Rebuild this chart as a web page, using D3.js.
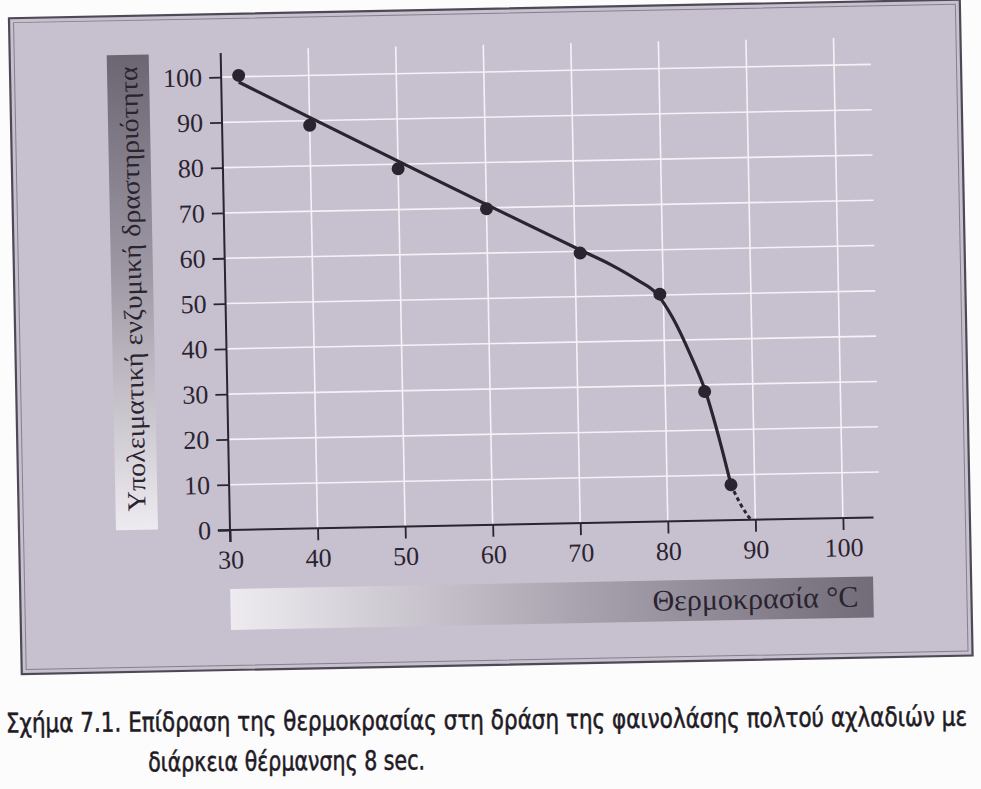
<!DOCTYPE html>
<html><head><meta charset="utf-8">
<script src="https://cdn.jsdelivr.net/npm/d3@7"></script>
<style>body{margin:0;background:#fcfcfd;} svg{display:block;}</style>
</head><body>
<svg id="chart" width="981" height="789"></svg>
<script>
// ---- data ----
const xTicks = [30, 40, 50, 60, 70, 80, 90, 100];
const yTicks = [0, 10, 20, 30, 40, 50, 60, 70, 80, 90, 100];
const tempC    = [32, 40, 50, 60, 70.6, 79.6, 84.5, 87.3];
const activity = [100.3, 89, 79, 69.8, 59.6, 50.2, 28.5, 7.8];
const curveTemp = [32, 70.6, 74, 77, 79.3, 81, 83, 84.6, 86, 87.3];
const curveAct  = [98.8, 60.3, 57, 53.5, 50.2, 45, 36.5, 28.5, 18.5, 7.8];
const dashTemp = [87.3, 88.4, 89.5];
const dashAct  = [7.8, 3, 0];
const xLabel = "Θερμοκρασία °C";
const yLabel = "Υπολειματική ενζυμική δραστηριότητα";
const caption1 = "Σχήμα 7.1. Επίδραση της θερμοκρασίας στη δράση της φαινολάσης πολτού αχλαδιών με";
const caption2 = "διάρκεια θέρμανσης 8 sec.";

const ink = "#2a2330";
const svg = d3.select("#chart");
const defs = svg.append("defs");
const gy = defs.append("linearGradient").attr("id","gy").attr("x1",0).attr("y1",0).attr("x2",0).attr("y2",1);
gy.append("stop").attr("offset","0%").attr("stop-color","#6c6672");
gy.append("stop").attr("offset","45%").attr("stop-color","#9d97a3");
gy.append("stop").attr("offset","100%").attr("stop-color","#eeebf0");
const gx = defs.append("linearGradient").attr("id","gx").attr("x1",0).attr("y1",0).attr("x2",1).attr("y2",0);
gx.append("stop").attr("offset","0%").attr("stop-color","#eeebf0");
gx.append("stop").attr("offset","55%").attr("stop-color","#a8a2ae");
gx.append("stop").attr("offset","100%").attr("stop-color","#726c78");

const x = d3.scaleLinear().domain([30, 100]).range([230, 843]);
const y = d3.scaleLinear().domain([0, 100]).range([530, 77]);

const g = svg.append("g").attr("transform", "rotate(-1.12 230 530)");

// frame
g.append("rect").attr("x",19).attr("y",14).attr("width",951).attr("height",656)
  .attr("fill","#c7c0cf").attr("stroke","#4f4955").attr("stroke-width",2.2);
g.append("rect").attr("x",23.5).attr("y",18.5).attr("width",942).attr("height",647)
  .attr("fill","none").attr("stroke","#857f8b").attr("stroke-width",1);

// grid
g.append("g").selectAll("line").data(xTicks.filter(d => d > 30)).join("line")
  .attr("x1", d => x(d)).attr("x2", d => x(d)).attr("y1", y(0)).attr("y2", y(106))
  .attr("stroke","#f4f2f6").attr("stroke-width",1.6);
g.append("g").selectAll("line").data(yTicks.filter(d => d > 0)).join("line")
  .attr("x1", x(30)).attr("x2", x(104.2)).attr("y1", d => y(d)).attr("y2", d => y(d))
  .attr("stroke","#f4f2f6").attr("stroke-width",1.6);

// label boxes
g.append("rect").attr("x",116).attr("y",53).attr("width",42).attr("height",475).attr("fill","url(#gy)");
g.append("rect").attr("x",229).attr("y",589).attr("width",643).attr("height",41).attr("fill","url(#gx)");

// axes
const font = "'Liberation Serif','DejaVu Serif',serif";
const ax = g.append("g").attr("transform", `translate(0,${y(0)})`)
  .call(d3.axisBottom(x).tickValues(xTicks).tickSize(12).tickPadding(8).tickFormat(d3.format("d")));
const ay = g.append("g").attr("transform", `translate(${x(30)},0)`)
  .call(d3.axisLeft(y).tickValues(yTicks).tickSize(12).tickPadding(7).tickFormat(d3.format("d")));
[ax, ay].forEach(a => {
  a.select(".domain").remove();
  a.selectAll("line").attr("stroke", ink).attr("stroke-width", 1.8);
  a.selectAll("text").attr("fill", ink).style("font-family", font).style("font-size","26px");
});
g.append("line").attr("x1", x(28.6)).attr("x2", x(103.5)).attr("y1", y(0)).attr("y2", y(0))
  .attr("stroke", ink).attr("stroke-width", 2);
g.append("line").attr("x1", x(30)).attr("x2", x(30)).attr("y1", y(0) + 12).attr("y2", y(105.3))
  .attr("stroke", ink).attr("stroke-width", 2);

// axis titles
g.append("text").attr("x", 857).attr("y", 619).attr("text-anchor","end")
  .attr("textLength", 206).attr("lengthAdjust","spacingAndGlyphs")
  .style("font-family", font).style("font-size","30px").attr("fill", ink).text(xLabel);
g.append("text").attr("transform","translate(146,287) rotate(-90)").attr("text-anchor","middle")
  .attr("textLength", 445).attr("lengthAdjust","spacingAndGlyphs")
  .style("font-family", font).style("font-size","26px").attr("fill", ink).text(yLabel);

// curve
const solid = curveTemp.map((t, i) => [t, curveAct[i]]);
const dashed = dashTemp.map((t, i) => [t, dashAct[i]]);
const line = d3.line().x(d => x(d[0])).y(d => y(d[1])).curve(d3.curveMonotoneX);
g.append("path").attr("d", line(solid)).attr("fill","none").attr("stroke", ink).attr("stroke-width",3.2);
g.append("path").attr("d", d3.line().x(d => x(d[0])).y(d => y(d[1])).curve(d3.curveBasis)(dashed))
  .attr("fill","none").attr("stroke", ink).attr("stroke-width",3).attr("stroke-dasharray","4,3");

// points
g.append("g").selectAll("circle").data(tempC.map((t, i) => [t, activity[i]])).join("circle")
  .attr("cx", d => x(d[0])).attr("cy", d => y(d[1])).attr("r", 6.5).attr("fill", ink);

// caption: condensed by a horizontal scale fitted to the measured width
const cap = svg.append("g").attr("transform","rotate(-0.4 490 745)");
const capFont = "'DejaVu Sans Condensed','Liberation Sans Narrow','DejaVu Sans',sans-serif";
function capLine(txt, x0, base, width) {
  const gg = cap.append("g");
  const t = gg.append("text").attr("x", 0).attr("y", 0)
    .style("font-family", capFont).style("font-size","27px").attr("fill","#1f1a24")
    .attr("stroke","#1f1a24").attr("stroke-width",0.5).text(txt);
  const w = t.node().getComputedTextLength();
  gg.attr("transform", `translate(${x0},${base}) scale(${width / w},1)`);
}
capLine(caption1, 6, 729, 962);
capLine(caption2, 148, 769, 277);
</script>
</body></html>
